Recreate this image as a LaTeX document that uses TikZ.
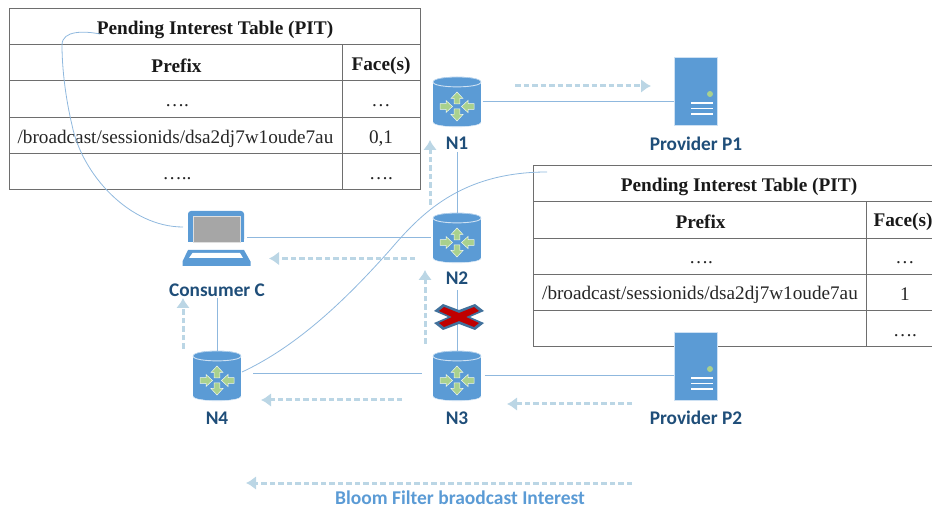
\documentclass[tikz,border=0pt]{standalone}
\usepackage{fontspec}
\setmainfont{Liberation Serif}
\newfontfamily\lblfont{Carlito}
\usetikzlibrary{arrows.meta}
\definecolor{nodeblue}{HTML}{5B9BD5}
\definecolor{linkblue}{HTML}{8FB8DE}
\definecolor{flowblue}{HTML}{BBD6E5}
\definecolor{labelblue}{HTML}{1F4E79}
\definecolor{arrowgreen}{HTML}{A9D18E}
\definecolor{gridgray}{HTML}{6E6E6E}
\definecolor{xborder}{HTML}{41719C}
\definecolor{xred}{HTML}{C00000}
\tikzset{
  anchorbox/.style={inner sep=0pt,outer sep=0pt,minimum width=#1},
  devlabel/.style={font=\lblfont\bfseries\fontsize{19.3}{22}\selectfont,text=labelblue,inner sep=0pt},
  link/.style={draw=linkblue,line width=1pt},
  flow/.style={draw=flowblue,line width=3pt,dash pattern=on 5.5pt off 3pt,
    -{Latex[length=10pt,width=14pt]}},
  gridline/.style={draw=gridgray,line width=1pt},
  cellb/.style={font=\bfseries\fontsize{19.3}{22}\selectfont,inner sep=0pt,text=black!90},
  cell/.style={font=\fontsize{19.2}{22}\selectfont,inner sep=0pt,text=black!85},
  greenarrow/.style={fill=arrowgreen,draw=white!85!arrowgreen,line width=0.5pt},
  router/.pic={
    \fill[nodeblue] (-24,-20) rectangle (24,20);
    \fill[nodeblue] (-24,20) .. controls (-24,26.5) and (24,26.5) .. (24,20) -- cycle;
    \fill[nodeblue] (-24,-20) .. controls (-24,-26.5) and (24,-26.5) .. (24,-20) -- cycle;
    \draw[white!70!nodeblue,line width=0.9pt] (-24,-20) .. controls (-24,-13.5) and (24,-13.5) .. (24,-20);
    \draw[white!70!nodeblue,line width=0.5pt] (-24,-20) .. controls (-24,-26.5) and (24,-26.5) .. (24,-20);
    \draw[white!70!nodeblue,line width=0.5pt] (-24,20) .. controls (-24,26.5) and (24,26.5) .. (24,20);
    \begin{scope}[shift={(0,4.5)}]
      \foreach \r in {0,180}{
        \begin{scope}[rotate=\r]
          \path[greenarrow] (0,-14.5) -- (6,-8) -- (2.8,-8) -- (2.8,-2.5) -- (-2.8,-2.5) -- (-2.8,-8) -- (-6,-8) -- cycle;
        \end{scope}}
      \path[greenarrow] (-4.5,0) -- (-11,-6) -- (-11,-2.8) -- (-17,-2.8) -- (-17,2.8) -- (-11,2.8) -- (-11,6) -- cycle;
      \path[greenarrow] (4.5,0) -- (11,-6) -- (11,-2.8) -- (17,-2.8) -- (17,2.8) -- (11,2.8) -- (11,6) -- cycle;
    \end{scope}
  },
  server/.pic={
    \draw[white!70!nodeblue,fill=nodeblue,line width=0.6pt] (-21.5,-34) rectangle (21.5,34);
    \fill[arrowgreen] (14,3) circle (3pt);
    \draw[white,line width=1.4pt] (-5,12) -- (17,12) (-5,17.5) -- (17,17.5) (-5,23) -- (17,23);
  },
  laptop/.pic={
    \fill[nodeblue,rounded corners=3pt] (-29,-27.5) rectangle (27,3.5);
    \fill[nodeblue] (-29,-5) rectangle (27,3.5);
    \draw[white!75!gray,fill=black!35,line width=0.7pt] (-24,-22.5) rectangle (23,4);
    \fill[nodeblue] (-29,11.5) -- (27,11.5) -- (33.5,23) -- (33.5,27.5) -- (-34.5,27.5) -- (-34.5,23) -- cycle;
    \fill[white] (-24.5,14.5) -- (23,14.5) -- (26,19.5) -- (-28,19.5) -- cycle;
  },
}
\begin{document}
\begin{tikzpicture}[x=1pt,y=-1pt]
\useasboundingbox (0,0) rectangle (932,510);
% named device boxes
\node[anchorbox=49pt,minimum height=50pt] (n1) at (457,102) {};
\node[anchorbox=49pt,minimum height=50pt] (n2) at (457,238) {};
\node[anchorbox=49pt,minimum height=50pt] (n3) at (457,376) {};
\node[anchorbox=49pt,minimum height=50pt] (n4) at (217,376) {};
\node[anchorbox=44pt,minimum height=68pt] (p1) at (696,91) {};
\node[anchorbox=44pt,minimum height=68pt] (p2) at (696,366) {};
\node[anchorbox=56pt,minimum height=40pt] (cc) at (217,238.5) {};
% labels
\node[devlabel] (n1l) at (457,143.5) {N1};
\node[devlabel] (n2l) at (457,278.5) {N2};
\node[devlabel] (n3l) at (457,418.5) {N3};
\node[devlabel] (n4l) at (217,418.5) {N4};
\node[devlabel] (p1l) at (696,143.5) {Provider P1};
\node[devlabel] (p2l) at (696,418) {Provider P2};
\node[devlabel] (ccl) at (217,290.5) {Consumer C};
\node[font=\lblfont\bfseries\fontsize{19.5}{22}\selectfont,text=nodeblue,inner sep=0pt] (legend) at (460,498) {Bloom Filter braodcast Interest};
% table 1
\draw[gridline] (9,9) rectangle (420,190);
\draw[gridline] (9,45) -- (420,45) (9,81) -- (420,81) (9,118) -- (420,118) (9,154) -- (420,154) (342.5,45) -- (342.5,190);
\node[cellb] (t1title) at (215,29.5) {Pending Interest Table (PIT)};
\node[cellb] (t1a) at (176.5,65.5) {Prefix};
\node[cellb] (t1b) at (381,65.5) {Face(s)};
\node[cell] (t1c) at (177,106) {….};
\node[cell] (t1d) at (381,106) {…};
\node[cell] (t1e) at (175.5,139) {/broadcast/sessionids/dsa2dj7w1oude7au};
\node[cell] (t1f) at (381,139) {0,1};
\node[cell] (t1g) at (177,178.5) {…..};
\node[cell] (t1h) at (381,178.5) {….};
% table 2
\draw[gridline] (533,166) rectangle (945,347);
\draw[gridline] (533,202) -- (945,202) (533,238.5) -- (945,238.5) (533,274.5) -- (945,274.5) (533,311) -- (945,311) (866.5,202) -- (866.5,347);
\node[cellb] (t2title) at (739,186.5) {Pending Interest Table (PIT)};
\node[cellb] (t2a) at (700.5,221.5) {Prefix};
\node[cellb] (t2b) at (903,221.5) {Face(s)};
\node[cell] (t2c) at (701,262.5) {….};
\node[cell] (t2d) at (905,262.5) {…};
\node[cell] (t2e) at (700,294.5) {/broadcast/sessionids/dsa2dj7w1oude7au};
\node[cell] (t2f) at (905,294.5) {1};
\node[cell] (t2h) at (905,335.5) {….};
% connector end points
\coordinate (pitA) at (100,34);
\coordinate (ccA) at (183,227);
\coordinate (pitB) at (547,172);
\coordinate (n4B) at (242,372);
\coordinate (f1a) at (515,86);  \coordinate (f1b) at (651,86);
\coordinate (f2a) at (430,205); \coordinate (f2b) at (430,140);
\coordinate (f3a) at (415,258.5); \coordinate (f3b) at (269,258.5);
\coordinate (f4a) at (425,344); \coordinate (f4b) at (425,270);
\coordinate (f5a) at (183,349); \coordinate (f5b) at (183,298);
\coordinate (f6a) at (402,400); \coordinate (f6b) at (261,400);
\coordinate (f7a) at (632,404); \coordinate (f7b) at (507,404);
\coordinate (f8a) at (632,483); \coordinate (f8b) at (246,483);
% links
\draw[link] (n1.east) ++(1,0) -- (p1.west |- n1.east);
\draw[link] (n1l.south) ++(0,2) -- (n2.north);
\draw[link] (cc.east |- n2.west) ++(2,0) -- ([xshift=-2pt]n2.west);
\draw[link] (n2l.south) ++(0,5) -- ([yshift=-2pt]n3.north);
\draw[link] ([yshift=2pt]n3.west) ++(-11,0) -- ([xshift=11.5pt,yshift=2pt]n4.east);
\draw[link] (n3.east) ++(3,0) -- (p2.west |- n3.east);
\draw[link] (ccl.south) ++(0,1) -- ([yshift=-2pt]n4.north);
\draw[link,line width=0.8pt] (pitA) .. controls (85,31) and (62,30) .. (62,45) .. controls (62,70) and (66,100) .. (72,125) .. controls (82,175) and (130,227) .. (ccA);
\draw[link,line width=0.8pt] (pitB) .. controls (460,172) and (420,215) .. (390,250) .. controls (350,295) and (300,345) .. (n4B);
% flows
\draw[flow] (f1a) -- (f1b);
\draw[flow] (f2a) -- (f2b);
\draw[flow] (f3a) -- (f3b);
\draw[flow] (f4a) -- (f4b);
\draw[flow] (f5a) -- (f5b);
\draw[flow] (f6a) -- (f6b);
\draw[flow] (f7a) -- (f7b);
\draw[flow] (f8a) -- (f8b);
% devices
\pic at (n1) {router};
\pic at (n2) {router};
\pic at (n3) {router};
\pic at (n4) {router};
\pic at (p1) {server};
\pic at (p2) {server};
\pic at (cc) {laptop};
% broken link mark
\fill[xborder] (459,317) ++(-16,-13) -- ++(16,6) -- ++(16,-6) -- ++(9,7) -- ++(-14,6) -- ++(14,6) -- ++(-9,7) -- ++(-16,-6) -- ++(-16,6) -- ++(-9,-7) -- ++(14,-6) -- ++(-14,-6) -- cycle;
\fill[xred] (459,317) ++(-15,-10) -- ++(15,6) -- ++(15,-6) -- ++(5,4) -- ++(-13,6) -- ++(13,6) -- ++(-5,4) -- ++(-15,-6) -- ++(-15,6) -- ++(-5,-4) -- ++(13,-6) -- ++(-13,-6) -- cycle;
\end{tikzpicture}
\end{document}
